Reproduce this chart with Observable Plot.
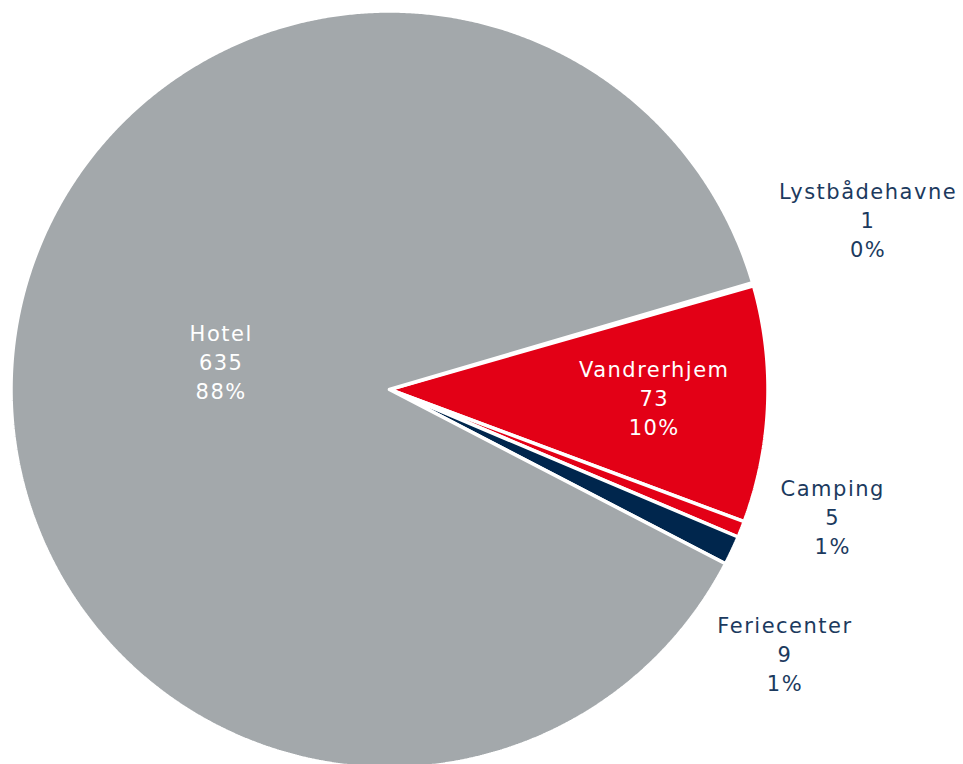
<!DOCTYPE html>
<html>
<head>
<meta charset="utf-8">
<script src="https://cdn.jsdelivr.net/npm/d3@7"></script>
<script src="https://cdn.jsdelivr.net/npm/@observablehq/plot@0.6"></script>
<style>
  html, body { margin: 0; padding: 0; background: #fff; }
  #chart svg { display: block; }
  #chart svg text { letter-spacing: 1.5px; }
</style>
</head>
<body>
<div id="chart"></div>
<script>
// Data (clockwise order, starting at the first slice)
const categories = ["Lystbådehavne", "Vandrerhjem", "Camping", "Feriecenter", "Hotel"];
const values = [1, 73, 5, 9, 635];
const percentLabels = ["0%", "10%", "1%", "1%", "88%"];
const colors = ["#a3a8ab", "#e30016", "#e30016", "#00264d", "#a3a8ab"];

// Layout settings (not data)
const W = 963, H = 764;
const cx = 389, cy = 389, R = 378.5;
const startDeg = 73.6; // rotation of first slice, clockwise from 12 o'clock
// label placement: radius factor, angle nudge in degrees, inside or outside
const labelPlacement = {
  "Lystbådehavne": {r: 1.34, da: -3.2, inside: false},
  "Vandrerhjem": {r: 0.70, da: 0, inside: true},
  "Camping": {r: 1.22, da: -5.4, inside: false},
  "Feriecenter": {r: 1.26, da: 8.8, inside: false},
  "Hotel": {r: 0.45, da: 3.3, inside: true}
};

const pie = d3.pie().sort(null).value(d => d.value)
  .startAngle(startDeg * Math.PI / 180)
  .endAngle((startDeg + 360) * Math.PI / 180);
const rows = categories.map((name, i) => ({name, value: values[i], pct: percentLabels[i], color: colors[i]}));
const arcs = pie(rows);

// Build slice outlines in unit coordinates (clockwise angle from 12 o'clock)
const outline = [];
arcs.forEach(a => {
  const pts = [{name: a.data.name, x: 0, y: 0}];
  const n = Math.max(2, Math.ceil((a.endAngle - a.startAngle) / 0.005));
  for (let k = 0; k <= n; k++) {
    const t = a.startAngle + (a.endAngle - a.startAngle) * k / n;
    pts.push({name: a.data.name, x: Math.sin(t), y: Math.cos(t)});
  }
  pts.push({name: a.data.name, x: 0, y: 0});
  outline.push(pts);
});

const labels = arcs.map(a => {
  const p = labelPlacement[a.data.name];
  const mid = (a.startAngle + a.endAngle) / 2 + p.da * Math.PI / 180;
  return {
    name: a.data.name,
    text: `${a.data.name}\n${a.data.value}\n${a.data.pct}`,
    x: p.r * Math.sin(mid),
    y: p.r * Math.cos(mid),
    inside: p.inside
  };
});

const xDomain = [-cx / R, (W - cx) / R];
const yDomain = [-(H - cy) / R, cy / R];

const plot = Plot.plot({
  width: W,
  height: H,
  margin: 0,
  x: {domain: xDomain, axis: null},
  y: {domain: yDomain, axis: null},
  style: {background: "#ffffff", fontFamily: "'DejaVu Sans', sans-serif"},
  marks: [
    ...outline.map((pts, i) => Plot.line(pts, {
      x: "x", y: "y",
      fill: arcs[i].data.color,
      stroke: "#ffffff",
      strokeWidth: 3.5,
      strokeLinejoin: "miter"
    })),
    Plot.text(labels.filter(d => d.inside), {
      x: "x", y: "y", text: "text",
      fill: "#ffffff", fontSize: 21, lineHeight: 1.38, dy: -3,
      textAnchor: "middle"
    }),
    Plot.text(labels.filter(d => !d.inside), {
      x: "x", y: "y", text: "text",
      fill: "#1c3a5e", fontSize: 21, lineHeight: 1.38, dy: -3,
      textAnchor: "middle"
    })
  ]
});
document.getElementById("chart").appendChild(plot);
</script>
</body>
</html>
